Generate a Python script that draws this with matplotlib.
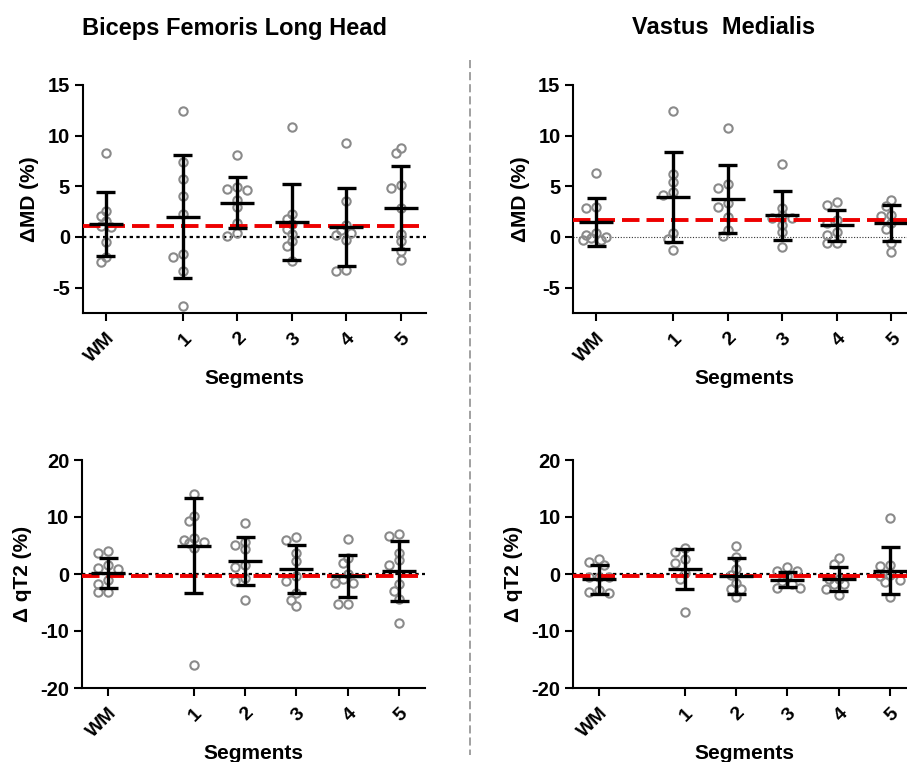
import matplotlib
matplotlib.use("Agg")
import matplotlib.pyplot as plt
from matplotlib import font_manager
from matplotlib.lines import Line2D
import numpy as np

# ---------------- data ----------------
categories = ["WM", "1", "2", "3", "4", "5"]

bf_md_points = [
    [8.3, 2.6, 1.6, 2.1, 1.1, 1.0, -0.5, -2.5, -2.0],
    [12.4, 7.4, 5.7, 4.0, 2.3, -1.7, -2.0, -3.4, -6.8],
    [8.1, 4.7, 4.6, 4.9, 3.7, 3.0, 1.4, 0.1, 0.4],
    [10.9, 2.3, 1.8, 1.3, 0.8, 0.3, -0.4, -0.9, -2.4],
    [9.3, 3.6, 1.2, 0.7, 0.4, 0.2, -0.3, -3.4, -3.3],
    [8.8, 8.3, 4.8, 5.1, 2.9, 0.3, -0.4, -1.4, -2.3],
]
bf_md_mean = [1.3, 2.0, 3.4, 1.5, 1.0, 2.9]
bf_md_sd = [3.15, 6.05, 2.55, 3.75, 3.85, 4.1]
bf_md_ref = 1.1

vm_md_points = [
    [6.3, 3.0, 2.9, 0.4, 0.2, 0.0, -0.3, -0.3, -0.1],
    [12.4, 6.2, 5.4, 4.4, 4.1, 0.4, -0.2, -1.3],
    [10.8, 5.2, 4.8, 3.0, 3.4, 2.0, 0.7, 0.1],
    [7.2, 2.9, 2.2, 1.85, 1.9, 1.2, 0.5, -1.0],
    [3.5, 3.2, 1.35, 1.65, 0.5, 0.2, -0.6, -0.6],
    [3.1, 3.7, 2.2, 2.1, 1.4, 0.8, -0.6, -1.45],
]
vm_md_mean = [1.5, 3.95, 3.75, 2.15, 1.15, 1.4]
vm_md_sd = [2.35, 4.4, 3.35, 2.4, 1.55, 1.75]
vm_md_ref = 1.65

bf_t2_points = [
    [4.0, 3.6, 1.5, 0.8, 1.1, -1.0, -1.7, -3.2, -3.2],
    [14.0, 10.2, 9.3, 5.5, 5.9, 6.4, 5.6, 4.6, -16.0],
    [9.0, 5.1, 5.6, 4.3, 1.2, 1.5, -0.7, -1.3, -4.5],
    [6.5, 5.9, 3.7, 2.35, -0.35, -1.2, -3.4, -4.6, -5.7],
    [6.2, 2.8, 1.9, 0.0, -1.5, -1.5, -0.9, -5.3, -5.3],
    [7.1, 6.7, 3.7, 2.4, 1.65, -1.75, -2.9, -4.4, -8.6],
]
bf_t2_mean = [0.15, 5.0, 2.35, 0.9, -0.3, 0.5]
bf_t2_sd = [2.65, 8.4, 4.2, 4.25, 3.7, 5.25]
bf_t2_ref = -0.35

vm_t2_points = [
    [2.1, 1.5, 2.7, -0.6, -0.6, -0.6, -2.8, -3.35, -3.2],
    [4.5, 3.9, 2.7, 1.9, 0.2, -0.9, -6.6],
    [4.9, 3.0, 0.9, -0.1, -1.5, -2.6, -2.6, -4.1],
    [0.5, 0.6, 1.2, -1.8, -1.3, -2.5, -2.5, -0.4],
    [1.8, 2.8, -1.8, -0.9, -0.9, -2.6, -3.6, -1.8],
    [9.8, 1.5, 1.35, -0.25, -0.3, -1.1, -1.4, -4.1],
]
vm_t2_mean = [-0.9, 0.9, -0.35, -1.0, -0.9, 0.6]
vm_t2_sd = [2.55, 3.5, 3.1, 1.35, 2.1, 4.1]
vm_t2_ref = -0.3

titles = ["Biceps Femoris Long Head", "Vastus  Medialis"]
xlabel = "Segments"
ylabel_md = "\u0394MD (%)"
ylabel_t2 = "\u0394 qT2 (%)"

# ---------------- style ----------------
names = {f.name for f in font_manager.fontManager.ttflist}
base_font = "Liberation Sans" if "Liberation Sans" in names else "DejaVu Sans"
plt.rcParams["font.family"] = [base_font, "DejaVu Sans"]
plt.rcParams["font.weight"] = "bold"

W, H = 907, 762
fig = plt.figure(figsize=(W / 100, H / 100), dpi=100)
fig.patch.set_facecolor("white")

def ax_rect(left_px, top_px, width_px, height_px):
    return [left_px / W, 1 - (top_px + height_px) / H, width_px / W, height_px / H]

top_pos = [-0.41, 1, 2, 3, 4, 5]
bot_pos = [-0.66, 1, 2, 3, 4, 5]

panels = [
    dict(rect=ax_rect(82.5, 85, 343.5, 228), pts=bf_md_points, mean=bf_md_mean, sd=bf_md_sd,
         ref=bf_md_ref, ylim=(-7.5, 15), yticks=[-5, 0, 5, 10, 15], pos=top_pos,
         xlim=(-0.84, 5.46), ylabel=ylabel_md, zero_style=dict(lw=1.6, color="black", ls=(0, (1.5, 1.5)))),
    dict(rect=ax_rect(573, 85, 343.5, 228), pts=vm_md_points, mean=vm_md_mean, sd=vm_md_sd,
         ref=vm_md_ref, ylim=(-7.5, 15), yticks=[-5, 0, 5, 10, 15], pos=top_pos,
         xlim=(-0.84, 5.46), ylabel=ylabel_md, zero_style=dict(lw=0.8, color="#333333", ls=(0, (1, 1.5)))),
    dict(rect=ax_rect(82, 460, 343, 228), pts=bf_t2_points, mean=bf_t2_mean, sd=bf_t2_sd,
         ref=bf_t2_ref, ylim=(-20, 20), yticks=[-20, -10, 0, 10, 20], pos=bot_pos,
         xlim=(-1.17, 5.5), ylabel=ylabel_t2, zero_style=dict(lw=1.6, color="black", ls=(0, (1.5, 1.5)))),
    dict(rect=ax_rect(573, 460, 343, 228), pts=vm_t2_points, mean=vm_t2_mean, sd=vm_t2_sd,
         ref=vm_t2_ref, ylim=(-20, 20), yticks=[-20, -10, 0, 10, 20], pos=bot_pos,
         xlim=(-1.17, 5.5), ylabel=ylabel_t2, zero_style=dict(lw=1.6, color="black", ls=(0, (1.5, 1.5)))),
]

def swarm(values, px_per_y, min_px=7.0):
    """Compact beeswarm offsets (pixels); circles may overlap a little."""
    order = np.argsort(values)[::-1]
    placed = []
    offs = np.zeros(len(values))
    cands = [0, -5, 5, -10, 10, -13, 13]
    for i in order:
        y = values[i] * px_per_y
        best, best_d = 0, -1
        chosen = None
        for c in cands:
            d = min([np.hypot(c - px, y - py) for px, py in placed] or [1e9])
            if d >= min_px:
                chosen = c
                break
            if d > best_d:
                best, best_d = c, d
        if chosen is None:
            chosen = best
        placed.append((chosen, y))
        offs[i] = chosen
    return offs

for p in panels:
    ax = fig.add_axes(p["rect"])
    ax.set_xlim(*p["xlim"])
    ax.set_ylim(*p["ylim"])
    w_px = p["rect"][2] * W
    h_px = p["rect"][3] * H
    px_x = w_px / (p["xlim"][1] - p["xlim"][0])
    px_y = h_px / (p["ylim"][1] - p["ylim"][0])

    ax.axhline(0, zorder=1, **p["zero_style"])
    ax.axhline(p["ref"], color="#ee0000", lw=2.8, ls=(0, (4.5, 1.8)), zorder=3)

    for xc, vals, m, s in zip(p["pos"], p["pts"], p["mean"], p["sd"]):
        vals = np.asarray(vals, dtype=float)
        offs = swarm(vals, px_y) / px_x
        ax.plot(xc + offs, vals, ls="none", marker="o", ms=6, mew=1.5,
                mfc="none", mec="#8a8a8a", zorder=2, clip_on=False)
        mh = 17 / px_x
        ch = 9.5 / px_x
        ax.plot([xc - mh, xc + mh], [m, m], color="black", lw=2.4, zorder=4, solid_capstyle="butt")
        ax.plot([xc, xc], [m - s, m + s], color="black", lw=2.4, zorder=4, solid_capstyle="butt")
        for e in (m - s, m + s):
            ax.plot([xc - ch, xc + ch], [e, e], color="black", lw=2.4, zorder=4, solid_capstyle="butt")

    for side in ("top", "right"):
        ax.spines[side].set_visible(False)
    for side in ("left", "bottom"):
        ax.spines[side].set_linewidth(1.5)
    ax.set_yticks(p["yticks"])
    ax.set_yticklabels([str(t) for t in p["yticks"]], fontsize=14.5, fontweight="bold")
    ax.set_xticks(p["pos"])
    ax.set_xticklabels(categories, fontsize=14, fontweight="bold", rotation=45,
                       ha="right", va="top", rotation_mode="anchor")
    ax.tick_params(axis="both", direction="out", length=6, width=1.5, pad=3)
    ax.tick_params(axis="x", pad=6)
    ax.set_xlabel(xlabel, fontsize=15, fontweight="bold", labelpad=2)
    ax.set_ylabel(p["ylabel"], fontsize=15, fontweight="bold", labelpad=6)

fig.text(235 / W, 1 - 28 / H, titles[0], ha="center", va="center", fontsize=17,
         fontweight="bold")
fig.text(724 / W, 1 - 28 / H, titles[1], ha="center", va="center", fontsize=17,
         fontweight="bold")

fig.add_artist(Line2D([470 / W, 470 / W], [1 - 60 / H, 1 - 755 / H], transform=fig.transFigure,
                      color="#999999", lw=1.3, ls=(0, (4.5, 2.2))))

fig.savefig("out.png", dpi=100, facecolor="white")
